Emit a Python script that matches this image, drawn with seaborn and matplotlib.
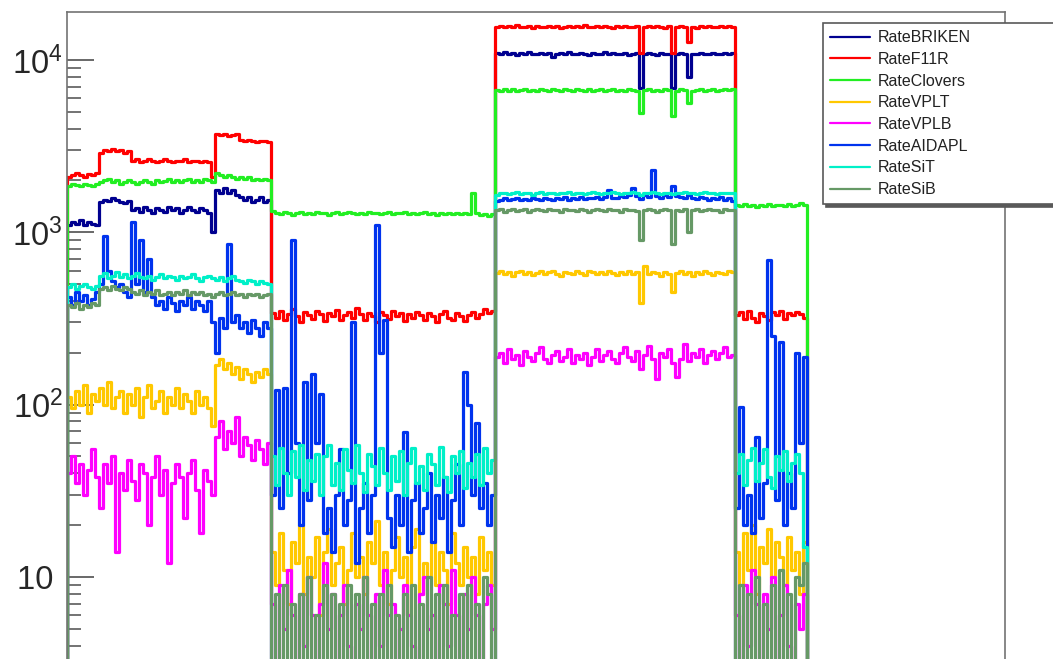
import numpy as np
import pandas as pd
import matplotlib
matplotlib.use('Agg')
import matplotlib.pyplot as plt
from matplotlib.lines import Line2D
from matplotlib.ticker import FixedLocator, FixedFormatter, LogLocator, NullFormatter
import seaborn as sns

# rate per time bin; four runs (a, b, c, d)
# run a: 51 bins, run b: 56 bins, run c: 60 bins, run d: 18 bins

briken_a = [1100, 1150, 1120, 1180, 1100, 1150, 1120, 1100,
            1500, 1550, 1520, 1580, 1550, 1500, 1480, 1520,
            1350, 1380, 1320, 1400, 1350, 1300, 1380, 1350, 1320, 1400,
            1350, 1380, 1300, 1350, 1400, 1350, 1320, 1380, 1350, 1300, 1000,
            1750, 1700, 1800, 1700, 1750, 1650, 1600, 1550, 1600, 1500, 1550, 1600, 1500, 1550]
briken_b = [0] * 56
briken_c = [11000, 10800, 11100, 10900, 11000, 10700, 11000, 10900, 11100, 10800,
            10900, 11000, 10800, 11000, 10400, 10900, 11000, 10800, 11100, 10900,
            10800, 11000, 10900, 10700, 11000, 10900, 10800, 11100, 10900, 11000,
            10800, 10900, 11000, 10700, 10900, 11000, 6900, 10800, 11000, 10900,
            10700, 11000, 10900, 10800, 6900, 10900, 11000, 10800, 8000, 10900,
            10800, 11000, 10900, 10800, 11000, 10900, 10800, 11000, 10900, 11000]
briken_d = [0] * 18

f11r_a = [2100, 2150, 2200, 2150, 2100, 2180, 2150, 2200,
          2900, 3000, 2950, 3050, 2950, 3000, 2900, 2950,
          2600, 2650, 2550, 2600, 2650, 2600, 2550, 2600, 2650, 2600,
          2550, 2600, 2600, 2650, 2550, 2600, 2600, 2550, 2600, 2550, 2100,
          3700, 3650, 3700, 3600, 3650, 3700, 3450, 3400, 3450, 3400, 3350, 3400, 3400, 3350]
f11r_b = [340, 320, 350, 310, 335, 360, 325, 300, 345, 330,
          315, 350, 335, 305, 340, 325, 355, 310, 330, 345,
          320, 365, 335, 310, 340, 325, 300, 345, 330, 315,
          350, 325, 340, 305, 335, 320, 345, 330, 310, 340,
          325, 300, 335, 350, 320, 310, 340, 325, 305, 330,
          345, 320, 335, 360, 340, 350]
f11r_c = [15600, 15800, 15500, 15700, 15600, 15900, 15500, 15600, 15800, 15400,
          15700, 15600, 15500, 15800, 15600, 15700, 15400, 15600, 15800, 15500,
          15700, 15600, 15900, 15500, 15600, 15700, 15500, 15800, 15600, 15400,
          15700, 15600, 15800, 15500, 15600, 15700, 11000, 15600, 15800, 15500,
          15700, 15600, 15400, 15700, 11000, 15600, 15800, 15500, 12700, 15600,
          15400, 15700, 15600, 15800, 15500, 15600, 15700, 15500, 15800, 15600]
f11r_d = [330, 345, 315, 350, 320, 300, 340, 325, 310,
          345, 330, 350, 315, 340, 330, 345, 335, 320]

clovers_a = [1850, 1900, 1880, 1850, 1900, 1870, 1850, 1900,
             1950, 2000, 2050, 1950, 2000, 1900, 1950, 2000, 1950, 1900,
             1950, 2000, 1950, 1900, 2000, 1950, 1980, 2050, 1950, 2000,
             1950, 2000, 2050, 1950, 2000, 1950, 2050, 2000, 1950,
             2200, 2150, 2100, 2150, 2100, 2050, 2100, 2050, 2100, 2000, 2050, 2000, 2050, 2000]
clovers_b = [1330, 1300, 1280, 1310, 1290, 1260, 1300, 1320, 1280, 1300,
             1270, 1310, 1290, 1300, 1260, 1290, 1310, 1280, 1300, 1320,
             1290, 1270, 1300, 1280, 1310, 1290, 1300, 1270, 1290, 1310,
             1280, 1300, 1290, 1320, 1280, 1300, 1270, 1290, 1310, 1280,
             1300, 1260, 1290, 1280, 1300, 1270, 1290, 1280, 1300, 1270,
             1700, 1290, 1260, 1280, 1250, 1270]
clovers_c = [6700, 6600, 6800, 6650, 6750, 6600, 6700, 6800, 6650, 6700,
             6600, 6750, 6700, 6650, 6800, 6700, 6600, 6750, 6700, 6650,
             6800, 6700, 6600, 6750, 6650, 6700, 6800, 6600, 6700, 6750,
             6650, 6700, 6600, 6800, 6700, 6650, 4900, 6700, 6750, 6600,
             6700, 6650, 6800, 6700, 4700, 6650, 6750, 6700, 5600, 6650,
             6700, 6800, 6650, 6700, 6750, 6650, 6700, 6800, 6700, 6750]
clovers_d = [1450, 1420, 1460, 1430, 1440, 1410, 1450, 1430, 1460,
             1420, 1440, 1450, 1420, 1460, 1430, 1450, 1470, 1440]

vplt_a = [110, 95, 120, 100, 130, 90, 115, 105, 125, 100,
          135, 95, 110, 120, 90, 115, 100, 125, 85, 110,
          130, 95, 105, 120, 90, 110, 100, 125, 95, 115,
          105, 90, 120, 100, 110, 95, 75,
          170, 185, 160, 175, 150, 165, 140, 160, 150, 135, 155, 145, 160, 150]
vplt_b = [14, 9, 18, 11, 7, 16, 12, 20, 8, 13,
          10, 17, 6, 14, 19, 9, 12, 15, 7, 11,
          18, 10, 13, 8, 16, 12, 21, 9, 14, 7,
          11, 17, 10, 13, 6, 15, 19, 8, 12, 10,
          16, 9, 14, 11, 7, 18, 12, 9, 15, 10,
          13, 8, 17, 11, 14, 9]
vplt_c = [580, 600, 570, 590, 560, 585, 600, 575, 590, 565,
          580, 595, 570, 585, 600, 575, 560, 590, 580, 570,
          595, 580, 565, 600, 585, 570, 590, 575, 600, 580,
          565, 590, 575, 600, 570, 585, 390, 640, 570, 590,
          580, 560, 590, 575, 450, 580, 595, 570, 585, 560,
          590, 575, 600, 580, 565, 590, 580, 570, 600, 585]
vplt_d = [14, 9, 18, 11, 20, 8, 15, 12, 19,
          10, 16, 13, 9, 17, 11, 14, 8, 16]

vplb_a = [40, 50, 35, 45, 30, 42, 55, 38, 25, 45,
          35, 50, 14, 40, 32, 48, 36, 28, 45, 40,
          20, 38, 50, 30, 42, 12, 35, 45, 38, 22,
          40, 48, 32, 18, 42, 36, 30,
          65, 80, 55, 70, 60, 85, 50, 65, 58, 48, 62, 55, 45, 60]
vplb_b = [7, 0, 9, 5, 11, 6, 0, 8, 4, 10,
          6, 0, 7, 12, 5, 8, 0, 6, 9, 4,
          0, 7, 5, 10, 6, 0, 8, 4, 11, 6,
          7, 0, 5, 9, 6, 4, 0, 8, 10, 5,
          6, 0, 9, 7, 4, 11, 6, 0, 8, 5,
          10, 6, 0, 7, 9, 5]
vplb_c = [190, 200, 175, 210, 185, 195, 170, 205, 190, 180,
          200, 215, 185, 175, 195, 205, 180, 190, 210, 175,
          195, 185, 200, 170, 190, 210, 180, 195, 205, 185,
          175, 200, 215, 190, 180, 205, 160, 195, 220, 185,
          140, 200, 190, 210, 175, 145, 185, 225, 180, 200,
          190, 210, 175, 195, 205, 185, 200, 215, 190, 195]
vplb_d = [6, 0, 9, 4, 11, 7, 0, 8, 5,
          10, 0, 6, 9, 4, 0, 7, 5, 8]

aidapl_a = [420, 380, 450, 400, 430, 380, 410, 450,
            500, 950, 600, 520, 480, 500, 450, 420, 1150, 500, 900, 450, 700,
            420, 380, 400, 360, 420, 390, 350, 400, 380, 420, 360, 400, 380, 350, 400, 300,
            200, 320, 280, 850, 300, 330, 280, 300, 260, 310, 280, 250, 300, 280]
aidapl_b = [30, 122, 25, 125, 40, 900, 60, 20, 135, 28,
            150, 60, 115, 18, 25, 14, 30, 55, 20, 28,
            300, 12, 25, 35, 18, 30, 1100, 200, 310, 22,
            15, 30, 20, 69, 14, 28, 35, 18, 25, 40,
            16, 30, 22, 38, 14, 28, 45, 20, 155, 100,
            30, 78, 25, 35, 20, 30]
aidapl_c = [1520, 1550, 1580, 1540, 1560, 1590, 1550, 1570, 1540, 1580,
            1560, 1550, 1590, 1570, 1540, 1580, 1560, 1600, 1550, 1580,
            1570, 1600, 1560, 1590, 1580, 1610, 1570, 1600, 1750, 1590,
            1580, 1620, 1600, 1640, 1800, 1620, 1560, 1650, 1600, 2300,
            1620, 1580, 1640, 1600, 1850, 1620, 1600, 1580, 1640, 1590,
            1560, 1600, 1580, 1550, 1590, 1570, 1600, 1540, 1580, 1520]
aidapl_d = [25, 97, 20, 30, 18, 65, 22, 35, 690,
            250, 28, 230, 20, 40, 25, 200, 60, 190]

sit_a = [480, 500, 470, 490, 500, 480, 470, 490,
         560, 580, 540, 560, 590, 550, 570, 540, 560, 580,
         550, 540, 560, 530, 550, 570, 540, 560, 550, 530,
         560, 540, 550, 570, 540, 520, 550, 560, 540, 530,
         550, 520, 540, 560, 530, 520, 510, 530, 520, 500,
         520, 510, 500]
sit_b = [50, 34, 56, 40, 30, 54, 38, 58, 32, 48,
         36, 52, 30, 50, 58, 34, 46, 32, 55, 42,
         35, 58, 40, 31, 52, 44, 34, 56, 40, 32,
         50, 36, 54, 30, 46, 56, 35, 44, 32, 52,
         45, 34, 57, 38, 31, 50, 40, 54, 33, 46,
         38, 52, 34, 56, 40, 48]
sit_c = [1650, 1680, 1700, 1660, 1690, 1720, 1670, 1700, 1680, 1650,
         1690, 1710, 1670, 1700, 1680, 1660, 1700, 1690, 1720, 1670,
         1690, 1700, 1660, 1680, 1710, 1690, 1670, 1700, 1680, 1720,
         1690, 1660, 1700, 1680, 1710, 1690, 1650, 1700, 1680, 1720,
         1690, 1670, 1700, 1680, 1660, 1700, 1690, 1720, 1680, 1700,
         1670, 1690, 1710, 1680, 1700, 1660, 1690, 1700, 1680, 1690]
sit_d = [40, 52, 34, 48, 56, 36, 46, 55, 38,
         33, 50, 42, 54, 36, 46, 52, 40, 15]

sib_a = [380, 370, 390, 360, 380, 370, 390, 380,
         470, 480, 460, 490, 470, 460, 480, 470,
         450, 440, 460, 430, 450, 440, 460, 430, 440, 450,
         430, 450, 440, 460, 430, 450, 440, 450, 430, 440, 420,
         440, 450, 430, 440, 450, 430, 440, 420, 440, 430, 440, 420, 430, 440]
sib_b = [0, 8, 0, 9, 0, 7, 0, 8, 0, 10,
         0, 6, 0, 9, 0, 8, 0, 7, 0, 9,
         0, 8, 0, 10, 0, 7, 0, 8, 0, 9,
         0, 6, 0, 8, 0, 9, 0, 7, 0, 10,
         0, 8, 0, 9, 0, 6, 0, 8, 0, 9,
         0, 7, 0, 10, 8, 0]
sib_c = [1340, 1360, 1320, 1350, 1370, 1330, 1350, 1360, 1320, 1340,
         1360, 1350, 1330, 1370, 1340, 1350, 1320, 1360, 1340, 1350,
         1330, 1360, 1350, 1320, 1340, 1370, 1350, 1330, 1360, 1340,
         1350, 1320, 1360, 1340, 1350, 1330, 900, 1350, 1360, 1340,
         1320, 1350, 1360, 1340, 850, 1350, 1330, 1360, 1000, 1340,
         1360, 1330, 1350, 1370, 1340, 1350, 1320, 1360, 1340, 1350]
sib_d = [0, 9, 0, 8, 0, 10, 0, 7, 0,
         9, 0, 11, 0, 8, 0, 10, 9, 12]

names = ['RateBRIKEN', 'RateF11R', 'RateClovers', 'RateVPLT',
         'RateVPLB', 'RateAIDAPL', 'RateSiT', 'RateSiB']
colors = ['#000090', '#ff0000', '#22ee22', '#ffc800',
          '#ff00ff', '#0033ee', '#00f0c8', '#669966']
rates = [briken_a + briken_b + briken_c + briken_d,
         f11r_a + f11r_b + f11r_c + f11r_d,
         clovers_a + clovers_b + clovers_c + clovers_d,
         vplt_a + vplt_b + vplt_c + vplt_d,
         vplb_a + vplb_b + vplb_c + vplb_d,
         aidapl_a + aidapl_b + aidapl_c + aidapl_d,
         sit_a + sit_b + sit_c + sit_d,
         sib_a + sib_b + sib_c + sib_d]
n_bins_axis = 234.5

frames = []
for name, vals in zip(names, rates):
    # histogram outline: starts and ends at zero like ROOT draws it
    x = [0] + list(range(len(vals))) + [len(vals)]
    y = [0] + list(vals) + [0]
    frames.append(pd.DataFrame({'bin': x, 'rate': y, 'series': name}))
df = pd.concat(frames, ignore_index=True)

sns.set_theme(style='white')
plt.rcParams['font.family'] = ['Liberation Sans', 'DejaVu Sans']
plt.rcParams['mathtext.fontset'] = 'custom'
plt.rcParams['mathtext.rm'] = 'Liberation Sans'

fig = plt.figure(figsize=(10.53, 6.59), dpi=100)
ax = fig.add_axes([67 / 1053, 0.0, 938 / 1053, 647 / 659])

sns.lineplot(data=df, x='bin', y='rate', hue='series', hue_order=names,
             palette=dict(zip(names, colors)), estimator=None, sort=False,
             errorbar=None, drawstyle='steps-post', linewidth=2.3,
             legend=False, ax=ax)

ax.set_yscale('log')
ax.set_xlim(0, n_bins_axis)
ax.set_ylim(3.34, 18990)
ax.set_xlabel('')
ax.set_ylabel('')
ax.set_xticks([])

ax.yaxis.set_major_locator(FixedLocator([10, 100, 1000, 10000]))
ax.yaxis.set_major_formatter(FixedFormatter(['10 ', r'$\mathregular{10^{2}}$',
                                             r'$\mathregular{10^{3}}$', r'$\mathregular{10^{4}}$']))
ax.yaxis.set_minor_locator(LogLocator(base=10, subs=np.arange(2, 10)))
ax.yaxis.set_minor_formatter(NullFormatter())
ax.tick_params(axis='y', which='major', direction='in', length=19.5, width=1.1,
               color='0.25', labelsize=23.5, pad=3, left=True, right=False)
ax.tick_params(axis='y', which='minor', direction='in', length=10, width=1.1,
               color='0.3', left=True, right=False)

for side in ['top', 'right', 'left']:
    ax.spines[side].set_color('0.45')
    ax.spines[side].set_linewidth(1.2)
ax.spines['bottom'].set_visible(False)

handles = [Line2D([0], [0], color=c, lw=1.6) for c in colors]
leg = ax.legend(handles, names, loc='upper left',
                bbox_to_anchor=(0.806, 0.5, 0.26, 0.483), mode='expand',
                borderaxespad=0, fontsize=11.5, frameon=True, fancybox=False,
                framealpha=1, edgecolor='0.35', handlelength=2.5,
                handletextpad=0.5, labelspacing=0.42, borderpad=0.45,
                shadow={'color': '0.35', 'alpha': 1})
leg.get_frame().set_linewidth(1.2)
for t in leg.get_texts():
    t.set_color('#222222')

fig.savefig('out.png', dpi=100)
